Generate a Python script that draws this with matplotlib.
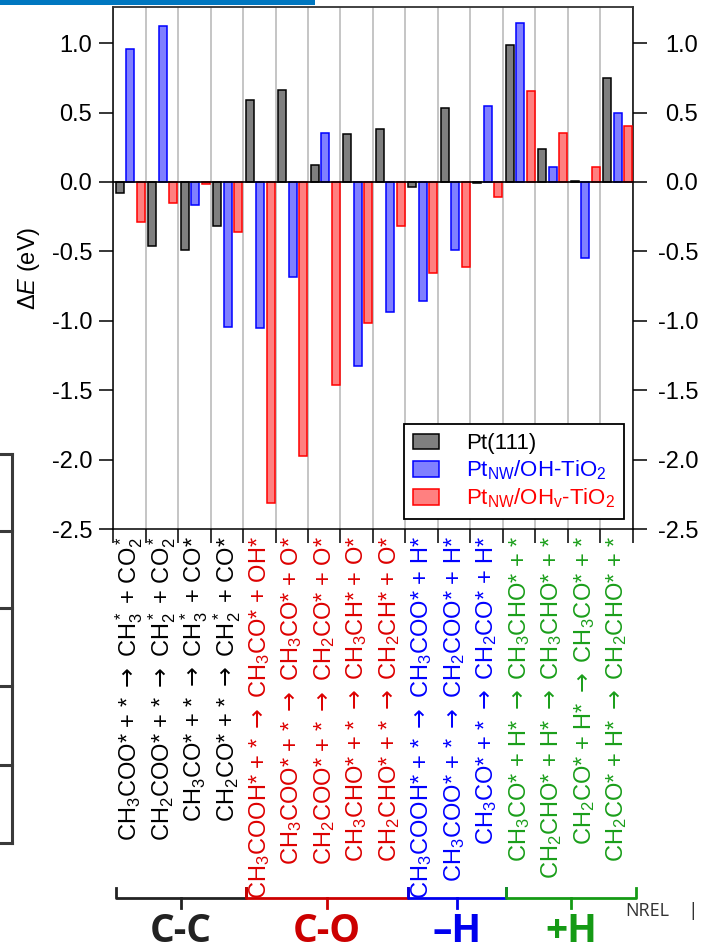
import numpy as np
import matplotlib
matplotlib.use("Agg")
import matplotlib.pyplot as plt
from matplotlib.transforms import blended_transform_factory
from matplotlib.patches import Rectangle
from matplotlib.lines import Line2D

plt.rcParams['font.family'] = ['Liberation Sans', 'DejaVu Sans']
plt.rcParams['mathtext.fontset'] = 'custom'
plt.rcParams['mathtext.rm'] = 'Liberation Sans'
plt.rcParams['mathtext.it'] = 'Liberation Sans:italic'
plt.rcParams['mathtext.bf'] = 'Liberation Sans:bold'
plt.rcParams['mathtext.sf'] = 'DejaVu Sans'
plt.rcParams['mathtext.default'] = 'regular'

ARROW = r"$\mathsf{\rightarrow}$"

# reaction steps, grouped by bond type
reactions = [
    "CH$_3$COO* + * {} CH$_3^*$ + CO$_2^*$",
    "CH$_2$COO* + * {} CH$_2^*$ + CO$_2^*$",
    "CH$_3$CO* + * {} CH$_3^*$ + CO*",
    "CH$_2$CO* + * {} CH$_2^*$ + CO*",
    "CH$_3$COOH* + * {} CH$_3$CO* + OH*",
    "CH$_3$COO* + * {} CH$_3$CO* + O*",
    "CH$_2$COO* + * {} CH$_2$CO* + O*",
    "CH$_3$CHO* + * {} CH$_3$CH* + O*",
    "CH$_2$CHO* + * {} CH$_2$CH* + O*",
    "CH$_3$COOH* + * {} CH$_3$COO* + H*",
    "CH$_3$COO* + * {} CH$_2$COO* + H*",
    "CH$_3$CO* + * {} CH$_2$CO* + H*",
    "CH$_3$CO* + H* {} CH$_3$CHO* + *",
    "CH$_2$CHO* + H* {} CH$_3$CHO* + *",
    "CH$_2$CO* + H* {} CH$_3$CO* + *",
    "CH$_2$CO* + H* {} CH$_2$CHO* + *",
]
groups = ["C-C", "C-O", "–H", "+H"]
group_sizes = [4, 5, 3, 4]
group_colors = ["#222222", "#cc0000", "#0000ee", "#159a15"]
label_colors = ["#000000", "#dd0000", "#0000ff", "#1a9e1a"]

# reaction energies (eV)
dE_pt111 = [-0.08, -0.46, -0.49, -0.32, 0.59, 0.66, 0.12, 0.345, 0.38,
            -0.035, 0.535, -0.01, 0.985, 0.235, 0.005, 0.745]
dE_oh = [0.955, 1.125, -0.165, -1.045, -1.055, -0.685, 0.355, -1.325, -0.935,
         -0.855, -0.49, 0.545, 1.145, 0.11, -0.545, 0.495]
dE_ohv = [-0.29, -0.15, -0.012, -0.36, -2.31, -1.975, -1.465, -1.015, -0.315,
          -0.655, -0.61, -0.105, 0.655, 0.355, 0.11, 0.405]

series = [
    ("Pt(111)", dE_pt111, "#7f7f7f", "#000000", "#000000"),
    ("Pt$_{NW}$/OH-TiO$_2$", dE_oh, "#8080ff", "#0000ff", "#0000ff"),
    ("Pt$_{NW}$/OH$_v$-TiO$_2$", dE_ohv, "#ff8080", "#ff0000", "#ff0000"),
]
offsets = [-0.29, 0.03, 0.35]
bar_w = 0.245

W, H = 702, 951
fig = plt.figure(figsize=(W / 100, H / 100), dpi=100)
ax = fig.add_axes([113 / W, 1 - 529 / H, 520 / W, 522 / H])

x = np.arange(len(reactions))
handles = []
for (name, vals, fc, ec, tc), off in zip(series, offsets):
    b = ax.bar(x + off, vals, width=bar_w, color=fc, edgecolor=ec,
               linewidth=1.1, zorder=3, label=name)
    handles.append(b)

ax.axhline(0, color="black", lw=1.2, zorder=4)
ax.set_xlim(-0.5, len(reactions) - 0.5)
ax.set_ylim(-2.5, 1.26)

# category separators
bounds = np.arange(len(reactions) + 1) - 0.5
ax.set_xticks(bounds, minor=True)
ax.grid(which="minor", axis="x", color="#b5b5b5", lw=1.1, zorder=0)
ax.tick_params(axis="x", which="minor", length=10, width=1.1, direction="out")
ax.set_xticks(x)
ax.set_xticklabels([r.format(ARROW) for r in reactions], rotation=90, fontsize=17)
ax.tick_params(axis="x", which="major", length=0, pad=5)
colors_per_label = np.repeat(label_colors, group_sizes)
for lab, c in zip(ax.get_xticklabels(), colors_per_label):
    lab.set_color(c)

yt = np.arange(-2.5, 1.01, 0.5)
ax.set_yticks(yt)
ax.set_yticklabels([f"{v:.1f}" for v in yt])
ax.tick_params(axis="y", length=10, width=1.1, labelsize=17, pad=5)
ax.set_ylabel("Δ$\\it{E}$ (eV)", fontsize=17)
ax.yaxis.set_label_coords(-0.137, 0.5)

for s in ["left", "right", "bottom"]:
    ax.spines[s].set_linewidth(1.1)
ax.spines["top"].set_color("#333333")
ax.spines["top"].set_linewidth(1.3)

# right-hand axis, labels right aligned
ax2 = ax.twinx()
ax2.set_ylim(ax.get_ylim())
ax2.set_yticks(yt)
ax2.set_yticklabels([f"{v:.1f}" for v in yt])
ax2.tick_params(axis="y", length=10, width=1.1, labelsize=17, pad=37)
for lab in ax2.get_yticklabels():
    lab.set_horizontalalignment("right")
for s in ax2.spines.values():
    s.set_visible(False)

leg = ax.legend(handles=handles, loc="lower right", bbox_to_anchor=(0.983, 0.019),
                borderaxespad=0, fontsize=16, frameon=True, fancybox=False,
                edgecolor="black", framealpha=1, handlelength=1.2,
                handleheight=0.7, handletextpad=1.2, labelspacing=0.2,
                borderpad=0.4)
leg.get_frame().set_linewidth(1.3)
leg.set_zorder(10)
for t, (_, _, _, _, tc) in zip(leg.get_texts(), series):
    t.set_color(tc)

# group brackets under the labels
trans = blended_transform_factory(ax.transData, fig.transFigure)
edges = np.concatenate([[0], np.cumsum(group_sizes)]) - 0.5 + 0.09
y_line = 1 - 898 / H
y_end = 1 - 888 / H
y_tick = 1 - 908 / H
for i, (g, gc) in enumerate(zip(groups, group_colors)):
    x0, x1 = edges[i], edges[i + 1]
    xm = (x0 + x1) / 2
    fig.add_artist(Line2D([x0, x0, x1, x1], [y_end, y_line, y_line, y_end],
                          transform=trans, color=gc, lw=2.0,
                          solid_joinstyle="round"))
    fig.add_artist(Line2D([xm, xm], [y_line, y_tick], transform=trans,
                          color=gc, lw=2.0))
    fig.text(xm, 1 - 931 / H, g, transform=trans, ha="center", va="center",
             fontsize=28, fontweight="bold", color=gc, family="Open Sans")

fig.text(625 / W, 1 - 911 / H, "NREL", ha="left", va="center", fontsize=13,
         color="#333333", family="Open Sans")
fig.text(693 / W, 1 - 911 / H, "|", ha="center", va="center", fontsize=14,
         color="#333333", family="Open Sans")

# slide decorations: title strip and clipped table edge
fig.add_artist(Rectangle((0, 1 - 5 / H), 315 / W, 5 / H, transform=fig.transFigure,
                         color="#0077c0", lw=0))
fig.add_artist(Line2D([12 / W, 12 / W], [1 - 454 / H, 1 - 843 / H],
                      transform=fig.transFigure, color="#3a3a3a", lw=2.2))
for yy in [454, 531, 608, 686, 765, 843]:
    fig.add_artist(Line2D([0, 12 / W], [1 - yy / H, 1 - yy / H],
                          transform=fig.transFigure, color="#3a3a3a", lw=2.2))

fig.savefig("out.png", dpi=100)
